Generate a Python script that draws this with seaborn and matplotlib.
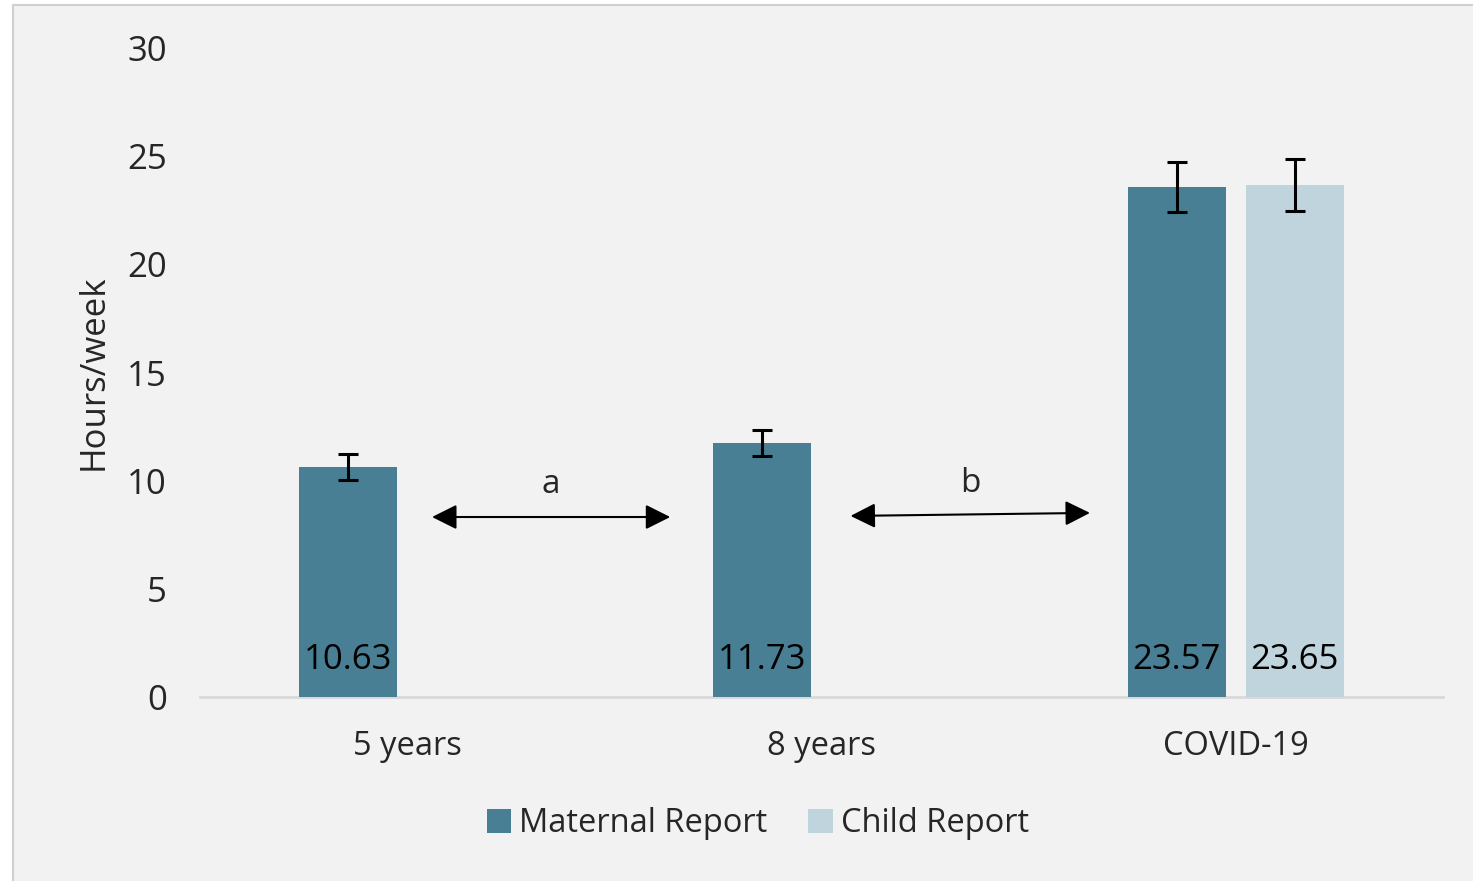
import numpy as np
import pandas as pd
import matplotlib
matplotlib.use("Agg")
import matplotlib.pyplot as plt
from matplotlib.patches import Rectangle
import seaborn as sns

# Data
periods = ["5 years", "8 years", "COVID-19"]
reporters = ["Maternal Report", "Child Report"]
maternal_hours = [10.63, 11.73, 23.57]
child_hours = [np.nan, np.nan, 23.65]
maternal_err = [0.6, 0.6, 1.15]
child_err = [np.nan, np.nan, 1.2]
y_ticks = [0, 5, 10, 15, 20, 25, 30]

# Significance arrows between periods: (x_start, x_end, y_start, y_end, label)
comparisons = [
    (0.06, 0.635, 8.32, 8.32, "a"),
    (1.07, 1.648, 8.37, 8.51, "b"),
]

colors = {"Maternal Report": "#487f94", "Child Report": "#bfd4dd"}
bg = "#f2f2f2"

df = pd.DataFrame({
    "period": periods * 2,
    "reporter": [reporters[0]] * 3 + [reporters[1]] * 3,
    "hours": maternal_hours + child_hours,
    "err": maternal_err + child_err,
})

sns.set_style("white")
plt.rcParams["font.family"] = ["Open Sans", "DejaVu Sans"]

fig = plt.figure(figsize=(14.73, 8.81), dpi=100)
fig.patch.set_facecolor("white")
# chart area panel with thin border
fig.patches.append(Rectangle((13 / 1473, -0.1), 1.2, 1.1 - 5 / 881,
                             transform=fig.transFigure, facecolor=bg,
                             edgecolor="#d0d0d0", linewidth=1.5, zorder=-10))

ax = fig.add_axes([200 / 1473, 1 - 697 / 881, 1243 / 1473, 649 / 881])
ax.set_facecolor(bg)

sns.barplot(data=df, x="period", y="hours", hue="reporter", order=periods,
            hue_order=reporters, palette=colors, width=0.57, gap=0.17,
            saturation=1, linewidth=0, errorbar=None, legend=True, ax=ax,
            zorder=2)

# error bars and value labels at bar centres
for cont, rep in zip(ax.containers, reporters):
    sub = df[(df.reporter == rep)].dropna(subset=["hours"])
    for bar, (val, err) in zip(cont, sub[["hours", "err"]].values):
        cx = bar.get_x() + bar.get_width() / 2
        ax.errorbar(cx, val, yerr=err, fmt="none", ecolor="black",
                    elinewidth=2.2, capsize=7.5, capthick=2.2, zorder=4)
        ax.text(cx, 1.72, f"{val:.2f}", ha="center", va="center",
                fontsize=25, color="black", zorder=5)

for x0, x1, y0, y1, lab in comparisons:
    ax.annotate("", xy=(x1, y1), xytext=(x0, y0),
                arrowprops=dict(arrowstyle="<|-|>", color="black", lw=1.5,
                                mutation_scale=38, shrinkA=0, shrinkB=0))
    ax.text((x0 + x1) / 2, y0 + 1.5, lab, ha="center", va="center", fontsize=24)

ax.set_xlim(-0.5, 2.5)
ax.set_ylim(0, 30)
ax.set_yticks(y_ticks)
ax.set_yticklabels([str(t) for t in y_ticks])
ax.tick_params(axis="y", length=0, pad=24, labelsize=25)
ax.tick_params(axis="x", length=0, pad=24, labelsize=23.5)
ax.set_xlabel("")
ax.set_ylabel("Hours/week", fontsize=25)
ax.yaxis.set_label_coords(-0.072, 0.5)

for s in ["top", "right", "left"]:
    ax.spines[s].set_visible(False)
ax.spines["bottom"].set_color("#d9d9d9")
ax.spines["bottom"].set_linewidth(2)
ax.spines["bottom"].set_zorder(1)

leg = ax.legend(loc="center", bbox_to_anchor=(758 / 1473, 1 - 824 / 881),
                bbox_transform=fig.transFigure, ncol=2, frameon=False,
                fontsize=23.5, handlelength=0.75, handleheight=0.75,
                handletextpad=0.25, columnspacing=1.25)

fig.savefig("out.png", dpi=100, facecolor=fig.get_facecolor())
